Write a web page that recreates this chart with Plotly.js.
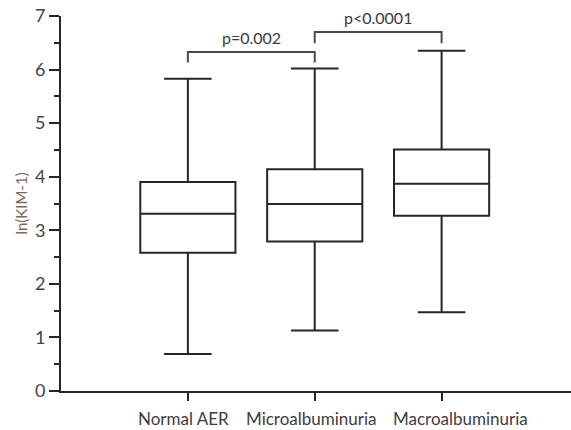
<!DOCTYPE html>
<html>
<head>
<meta charset="utf-8">
<script src="https://cdn.plot.ly/plotly-3.0.1.min.js"></script>
<style>html,body{margin:0;padding:0;background:#fff;}#chart{width:571px;height:430px;}</style>
</head>
<body>
<div id="chart"></div>
<script>
const categories = ["Normal AER", "Microalbuminuria", "Macroalbuminuria"];
const lowerWhisker = [0.69, 1.13, 1.47];
const q1Values = [2.58, 2.79, 3.27];
const medianValues = [3.31, 3.49, 3.87];
const q3Values = [3.90, 4.14, 4.51];
const upperWhisker = [5.83, 6.02, 6.35];

const bracketFrom = [0, 1];
const bracketTo = [1, 2];
const bracketTop = [6.33, 6.70];
const bracketBottom = [6.13, 6.49];
const pLabels = ["p=0.002", "p<0.0001"];

const lineColor = "#262626";
const font = "Lato, Noto Sans, sans-serif";
const labelShift = [-4, -3, 19];

const traces = [{
  type: "box",
  x: categories,
  q1: q1Values,
  median: medianValues,
  q3: q3Values,
  lowerfence: lowerWhisker,
  upperfence: upperWhisker,
  width: 0.75,
  whiskerwidth: 0.5,
  fillcolor: "#ffffff",
  line: {color: lineColor, width: 2},
  boxpoints: false,
  hoverinfo: "skip",
  showlegend: false
}];

const shapes = [];
const annotations = [];
for (let i = 0; i < pLabels.length; i++) {
  shapes.push({
    type: "path", xref: "x", yref: "y",
    path: "M " + bracketFrom[i] + "," + bracketBottom[i] +
          " L " + bracketFrom[i] + "," + bracketTop[i] +
          " L " + bracketTo[i] + "," + bracketTop[i] +
          " L " + bracketTo[i] + "," + bracketBottom[i],
    line: {color: "#4a4a4a", width: 2}
  });
  annotations.push({
    xref: "x", yref: "y",
    x: (bracketFrom[i] + bracketTo[i]) / 2, y: bracketTop[i],
    text: pLabels[i], showarrow: false, yanchor: "bottom", yshift: 3,
    font: {family: font, size: 16, color: "#3a3a3a"}
  });
}
for (let i = 0; i < categories.length; i++) {
  annotations.push({
    xref: "x", yref: "paper",
    x: i, y: 0, xshift: labelShift[i], yshift: -27,
    yanchor: "middle", xanchor: "center",
    text: categories[i], showarrow: false,
    font: {family: font, size: 17, color: "#3d3d3d"}
  });
}

const layout = {
  width: 571, height: 430,
  margin: {l: 61, r: 0, t: 16, b: 39},
  paper_bgcolor: "#fff", plot_bgcolor: "#fff",
  showlegend: false,
  xaxis: {
    type: "category",
    range: [-1.0, 3.02],
    showgrid: false, zeroline: false,
    showline: true, linecolor: lineColor, linewidth: 2,
    ticks: "outside", ticklen: 8, tickwidth: 2, tickcolor: lineColor,
    showticklabels: false
  },
  yaxis: {
    range: [0, 7],
    dtick: 1, tick0: 0,
    showgrid: false, zeroline: false,
    showline: true, linecolor: lineColor, linewidth: 2,
    ticks: "outside", ticklen: 10, tickwidth: 2, tickcolor: lineColor,
    minor: {dtick: 0.5, ticks: "outside", ticklen: 5, tickwidth: 2, tickcolor: lineColor, showgrid: false},
    tickfont: {family: font, size: 18, color: "#444"},
    title: {text: "ln(KIM-1)", font: {family: font, size: 15, color: "#7d6b55"}, standoff: 4}
  },
  shapes: shapes,
  annotations: annotations
};

Plotly.newPlot("chart", traces, layout, {displayModeBar: false, staticPlot: true});
</script>
</body>
</html>
